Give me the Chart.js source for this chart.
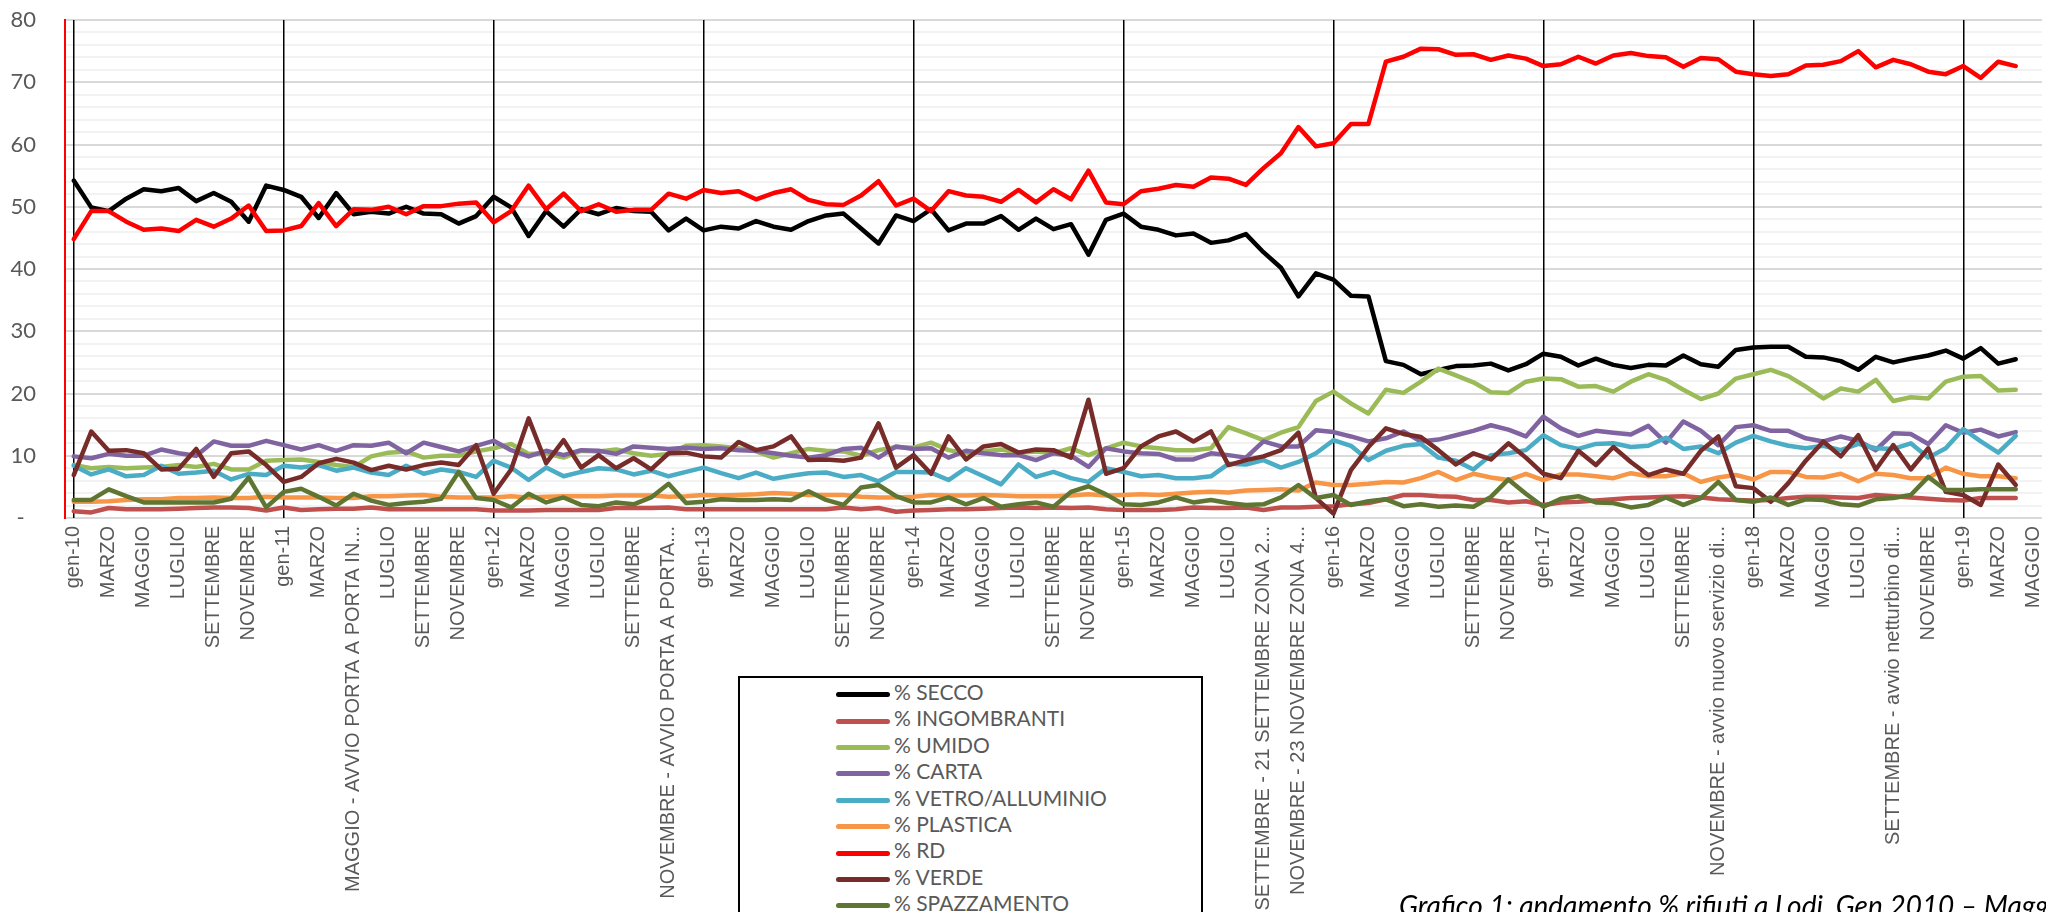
<!DOCTYPE html>
<html>
<head>
<meta charset="utf-8">
<script src="https://cdn.jsdelivr.net/npm/chart.js@4.4.1/dist/chart.umd.min.js"></script>
<style>
  html, body { margin: 0; padding: 0; background: #fff; overflow: hidden; }
  .wrap { position: relative; width: 2046px; height: 912px; overflow: hidden; }
  .legenda {
    position: absolute; left: 738px; top: 676px; width: 465px; height: 260px;
    border: 2px solid #000; background: #fff; box-sizing: border-box;
    font-family: Lato, "Liberation Sans Narrow", sans-serif; font-size: 21px; color: #595959;
  }
  .legenda .row { position: absolute; left: 96px; height: 26px; line-height: 26px; white-space: nowrap; }
  .legenda .row span.l { display: inline-block; width: 54px; height: 5px; border-radius: 3px; vertical-align: middle; margin-right: 4px; }
  .didascalia {
    position: absolute; left: 1399px; top: 888px; white-space: nowrap;
    font-family: Lato, sans-serif; font-style: italic; font-size: 28px; color: #000;
  }
</style>
</head>
<body>
<div class="wrap">
  <canvas id="grafico" width="2046" height="912"></canvas>
  <div class="legenda" id="legenda"></div>
  <div class="didascalia">Grafico 1: andamento % rifiuti a Lodi, Gen 2010 – Maggio 2019</div>
</div>
<script>
// categorie: un mese per punto, da gen-10 a maggio-19
const mesi = ['gen', 'FEBBRAIO', 'MARZO', 'APRILE', 'MAGGIO', 'GIUGNO', 'LUGLIO', 'AGOSTO', 'SETTEMBRE', 'OTTOBRE', 'NOVEMBRE', 'DICEMBRE'];
const anni = ['10', '11', '12', '13', '14', '15', '16', '17', '18', '19'];
const note = {
  16: 'MAGGIO - AVVIO PORTA A PORTA IN...',
  34: 'NOVEMBRE - AVVIO PORTA A PORTA...',
  68: 'SETTEMBRE - 21 SETTEMBRE ZONA 2...',
  70: 'NOVEMBRE - 23 NOVEMBRE ZONA 4...',
  94: 'NOVEMBRE - avvio nuovo servizio di...',
  104: 'SETTEMBRE - avvio netturbino di...'
};
const labels = [];
anni.forEach(a => {
  mesi.forEach((m, k) => {
    if (a === '19' && k > 4) return;
    const i = labels.length;
    labels.push(note[i] || (k === 0 ? 'gen-' + a : m));
  });
});

const secco = [54.2, 49.9, 49.3, 51.3, 52.8, 52.5, 53.0, 50.9, 52.2, 50.8, 47.6, 53.4, 52.7, 51.6, 48.2, 52.2, 48.8, 49.2, 48.9, 50.0, 48.9, 48.8, 47.3, 48.5, 51.6, 49.9, 45.3, 49.3, 46.8, 49.6, 48.8, 49.8, 49.3, 49.2, 46.2, 48.1,
  46.2, 46.8, 46.5, 47.7, 46.8, 46.3, 47.7, 48.6, 48.9, 46.5, 44.1, 48.6, 47.7, 49.6, 46.2, 47.3, 47.3, 48.5, 46.3, 48.1, 46.4, 47.2, 42.3, 47.9, 48.9, 46.8, 46.3, 45.4, 45.7, 44.2, 44.6, 45.6, 42.7, 40.2, 35.6, 39.3, 38.3, 35.7, 35.6,
  25.2, 24.6, 23.1, 23.8, 24.4, 24.5, 24.8, 23.7, 24.7, 26.4, 25.9, 24.5, 25.6, 24.6, 24.1, 24.6, 24.5, 26.1, 24.7, 24.3, 27.0, 27.4, 27.5, 27.5, 25.9, 25.8, 25.2, 23.8, 25.9, 25.0, 25.6, 26.1, 26.9, 25.6, 27.3, 24.8, 25.5, null];
const ingombranti = [1.1, 0.9, 1.6, 1.4, 1.4, 1.4, 1.5, 1.6, 1.7, 1.7, 1.6, 1.2, 1.7, 1.3, 1.4, 1.5, 1.5, 1.7, 1.4, 1.4, 1.4, 1.4,
  1.4, 1.4, 1.2, 1.2, 1.2, 1.3, 1.3, 1.3, 1.3, 1.6, 1.6, 1.6, 1.7, 1.4, 1.4, 1.4, 1.4, 1.4, 1.4, 1.4, 1.4, 1.4,
  1.7, 1.4, 1.6, 1.0, 1.2, 1.3, 1.4, 1.4, 1.5, 1.6, 1.7, 1.6, 1.7, 1.6, 1.7, 1.4, 1.3, 1.3, 1.3, 1.4, 1.7, 1.6,
  1.6, 1.7, 1.3, 1.7, 1.7, 1.8, 1.9, 2.2, 2.4, 3.0, 3.7, 3.7, 3.5, 3.4, 2.9, 2.9, 2.5, 2.7, 2.1, 2.5, 2.6, 2.8,
  3.0, 3.2, 3.3, 3.4, 3.5, 3.3, 3.0, 2.9, 2.8, 2.9, 3.2, 3.4, 3.4, 3.3, 3.2, 3.7, 3.5, 3.3, 3.1, 2.9, 2.8, 3.2, 3.2, 3.2, null];
const umido = [8.5, 8.0, 8.2, 8.0, 8.1, 8.2, 8.5, 8.2, 8.7, 7.8, 7.8, 9.2, 9.3, 9.4, 9.0, 8.5, 8.2, 9.9, 10.5, 10.7, 9.7, 10.0,
  10.0, 10.7, 11.2, 11.9, 10.3, 10.4, 9.7, 10.8, 10.7, 11.0, 10.4, 10.0, 10.3, 11.6, 11.7, 11.5, 11.2, 10.7, 9.7, 10.4, 11.1, 10.8,
  10.7, 10.0, 10.9, 11.4, 11.3, 12.1, 10.9, 10.4, 10.7, 11.0, 10.5, 10.7, 10.4, 11.2, 10.1, 11.2, 12.1, 11.5, 11.2, 10.9, 10.9, 11.2,
  14.6, 13.6, 12.5, 13.7, 14.6, 18.8, 20.3, 18.4, 16.8, 20.6, 20.1, 21.9, 24.0, 22.9, 21.8, 20.2, 20.1, 21.9, 22.4, 22.3, 21.1, 21.2,
  20.3, 21.9, 23.1, 22.2, 20.6, 19.1, 20.0, 22.4, 23.1, 23.8, 22.8, 21.1, 19.2, 20.8, 20.3, 22.2, 18.8, 19.4, 19.2, 21.9, 22.7, 22.8, 20.5, 20.6, null];
const carta = [9.9, 9.6, 10.3, 10.0, 10.0, 11.0, 10.4, 10.0, 12.3, 11.6, 11.6, 12.4, 11.7, 11.0, 11.7, 10.8, 11.7, 11.6, 12.1, 10.4, 12.1, 11.4,
  10.7, 11.6, 12.4, 10.9, 9.9, 10.8, 10.1, 10.9, 10.8, 10.3, 11.5, 11.3, 11.1, 11.3, 11.1, 11.2, 10.9, 10.8, 10.4, 10.0, 9.7, 10.1,
  11.1, 11.3, 9.7, 11.5, 11.1, 11.2, 9.7, 10.8, 10.4, 10.1, 10.1, 9.3, 10.4, 10.0, 8.2, 11.2, 10.7, 10.4, 10.3, 9.4, 9.4, 10.4,
  10.1, 9.7, 12.3, 11.5, 11.5, 14.1, 13.8, 13.1, 12.3, 12.8, 13.9, 12.3, 12.6, 13.3, 14.0, 14.9, 14.2, 13.1, 16.3, 14.4, 13.2, 14.0,
  13.7, 13.4, 14.8, 12.1, 15.5, 14.0, 11.7, 14.6, 14.9, 14.0, 14.0, 12.8, 12.3, 13.1, 12.4, 10.9, 13.6, 13.5, 11.9, 14.9, 13.7, 14.2, 13.1, 13.8, null];
const vetro = [8.4, 7.0, 7.8, 6.7, 6.9, 8.4, 7.1, 7.3, 7.6, 6.2, 7.1, 6.9, 8.4, 8.1, 8.5, 7.6, 8.1, 7.3, 6.9, 8.4, 7.1, 7.8,
  7.4, 6.6, 9.2, 8.1, 6.1, 8.1, 6.7, 7.4, 8.0, 7.8, 7.0, 7.6, 6.7, 7.4, 8.1, 7.2, 6.4, 7.3, 6.3, 6.8, 7.2, 7.3,
  6.6, 6.9, 5.9, 7.4, 7.4, 7.3, 6.1, 8.0, 6.7, 5.4, 8.6, 6.6, 7.4, 6.4, 5.8, 8.0, 7.4, 6.7, 6.9, 6.4, 6.4, 6.7,
  8.7, 8.6, 9.3, 8.1, 9.0, 10.4, 12.5, 11.6, 9.3, 10.8, 11.6, 11.9, 9.7, 9.2, 7.8, 10.1, 10.4, 10.9, 13.3, 11.7, 11.1, 11.9,
  12.0, 11.4, 11.6, 12.9, 11.1, 11.5, 10.4, 12.1, 13.2, 12.3, 11.6, 11.2, 11.6, 10.9, 11.9, 11.2, 11.1, 12.0, 9.7, 11.2, 14.3, 12.3, 10.5, 13.2, null];
const plastica = [2.6, 2.6, 2.7, 2.9, 3.0, 3.0, 3.2, 3.2, 3.3, 3.2, 3.2, 3.4, 3.3, 3.3, 3.3, 3.2, 3.2, 3.5, 3.5, 3.6, 3.7, 3.4,
  3.3, 3.3, 3.3, 3.5, 3.3, 3.4, 3.5, 3.5, 3.5, 3.6, 3.6, 3.6, 3.4, 3.5, 3.7, 3.6, 3.7, 3.8, 4.0, 3.9, 3.7, 3.7,
  3.7, 3.4, 3.3, 3.3, 3.4, 3.7, 3.6, 3.6, 3.7, 3.6, 3.5, 3.5, 3.5, 3.6, 3.8, 3.6, 3.7, 3.8, 3.7, 3.9, 4.1, 4.2,
  4.1, 4.4, 4.5, 4.6, 4.4, 5.7, 5.3, 5.3, 5.5, 5.8, 5.7, 6.4, 7.4, 6.1, 7.1, 6.5, 6.1, 7.1, 6.1, 7.0, 7.0, 6.7,
  6.4, 7.2, 6.7, 6.7, 7.2, 5.8, 6.5, 6.9, 6.2, 7.4, 7.4, 6.6, 6.5, 7.1, 5.9, 7.1, 6.9, 6.4, 6.4, 8.1, 7.1, 6.7, 6.7, 6.4, null];
const rd = [44.8, 49.3, 49.3, 47.6, 46.3, 46.5, 46.1, 47.9, 46.8, 48.1, 50.2, 46.1, 46.2, 46.9, 50.6, 46.9, 49.6, 49.5, 50.0, 48.8, 50.1, 50.1, 50.5, 50.7, 47.5, 49.3, 53.4, 49.6, 52.1, 49.3, 50.4, 49.2, 49.5, 49.5, 52.1, 51.3,
  52.7, 52.2, 52.5, 51.2, 52.2, 52.8, 51.1, 50.4, 50.3, 51.8, 54.1, 50.2, 51.3, 49.3, 52.5, 51.8, 51.6, 50.8, 52.7, 50.7, 52.8, 51.2, 55.8, 50.7, 50.4, 52.5, 52.9, 53.5, 53.2, 54.7, 54.5, 53.5, 56.2, 58.6, 62.8, 59.7, 60.2, 63.3, 63.3,
  73.3, 74.1, 75.4, 75.3, 74.4, 74.5, 73.6, 74.3, 73.8, 72.6, 72.9, 74.1, 73.0, 74.3, 74.7, 74.2, 74.0, 72.5, 73.9, 73.7, 71.7, 71.3, 71.0, 71.3, 72.7, 72.8, 73.4, 75.0, 72.4, 73.6, 72.9, 71.7, 71.3, 72.6, 70.7, 73.3, 72.6, null];
const verde = [6.9, 13.9, 10.8, 10.9, 10.4, 7.8, 7.9, 11.1, 6.6, 10.4, 10.7, 8.5, 5.8, 6.6, 8.8, 9.5, 8.9, 7.7, 8.4, 7.8, 8.5, 8.9,
  8.5, 11.7, 3.9, 7.8, 16.0, 8.8, 12.5, 8.1, 10.1, 8.0, 9.6, 7.8, 10.4, 10.5, 9.9, 9.7, 12.2, 10.9, 11.5, 13.1, 9.3, 9.4,
  9.2, 9.7, 15.2, 8.1, 10.1, 7.1, 13.1, 9.4, 11.5, 11.9, 10.5, 11.0, 10.9, 9.7, 19.0, 7.1, 8.0, 11.5, 13.1, 13.9, 12.3, 13.9,
  8.5, 9.3, 9.9, 10.9, 13.7, 3.2, 0.7, 7.7, 11.4, 14.4, 13.5, 13.0, 10.9, 8.6, 10.4, 9.4, 12.0, 9.7, 7.1, 6.4, 10.8, 8.5,
  11.4, 9.0, 6.9, 7.8, 7.1, 10.8, 13.1, 5.1, 4.8, 2.6, 5.6, 9.2, 12.3, 9.9, 13.3, 7.8, 11.7, 7.8, 11.2, 4.2, 3.7, 2.1, 8.6, 5.3, null];
const spazzamento = [2.9, 2.9, 4.6, 3.5, 2.5, 2.5, 2.5, 2.5, 2.5, 3.1, 6.5, 1.7, 4.2, 4.7, 3.4, 2.0, 3.9, 2.8, 2.1, 2.4, 2.6, 3.1,
  7.4, 3.2, 2.9, 1.7, 3.9, 2.5, 3.3, 2.1, 1.9, 2.5, 2.2, 3.3, 5.5, 2.4, 2.6, 3.0, 2.9, 2.9, 3.0, 2.9, 4.3, 2.9,
  2.1, 4.9, 5.3, 3.5, 2.5, 2.5, 3.3, 2.2, 3.2, 1.8, 2.2, 2.5, 1.8, 4.2, 5.1, 3.8, 2.2, 2.1, 2.5, 3.3, 2.5, 2.9,
  2.4, 2.1, 2.2, 3.3, 5.3, 3.2, 3.7, 2.1, 2.7, 3.0, 1.9, 2.2, 1.8, 2.0, 1.8, 3.4, 6.2, 3.9, 1.8, 3.1, 3.5, 2.5,
  2.4, 1.7, 2.1, 3.3, 2.1, 3.2, 5.8, 2.9, 2.6, 3.3, 2.1, 3.0, 2.9, 2.2, 2.0, 3.0, 3.2, 3.7, 6.6, 4.5, 4.5, 4.6, 4.6, 4.6, null];

const serie = [
  { label: '% SECCO', data: secco, color: '#000000' },
  { label: '% INGOMBRANTI', data: ingombranti, color: '#c0504d' },
  { label: '% UMIDO', data: umido, color: '#9bbb59' },
  { label: '% CARTA', data: carta, color: '#8064a2' },
  { label: '% VETRO/ALLUMINIO', data: vetro, color: '#4bacc6' },
  { label: '% PLASTICA', data: plastica, color: '#f79646' },
  { label: '% RD', data: rd, color: '#ff0000' },
  { label: '% VERDE', data: verde, color: '#772c2a' },
  { label: '% SPAZZAMENTO', data: spazzamento, color: '#5f7632' }
];

// legenda in html, riquadro sotto il grafico
const leg = document.getElementById('legenda');
serie.forEach((s, i) => {
  const r = document.createElement('div');
  r.className = 'row';
  r.style.top = (1 + i * 26.4) + 'px';
  r.innerHTML = '<span class="l" style="background:' + s.color + '"></span>' + s.label;
  leg.appendChild(r);
});

const ctx = document.getElementById('grafico');
new Chart(ctx, {
  type: 'line',
  data: {
    labels: labels,
    datasets: serie.map((s, i) => ({
      label: s.label,
      data: s.data,
      borderColor: s.color,
      backgroundColor: s.color,
      borderWidth: 4.5,
      pointRadius: 0,
      tension: 0,
      fill: false,
      borderJoinStyle: 'round',
      borderCapStyle: 'round',
      order: serie.length - i
    }))
  },
  options: {
    responsive: false,
    animation: false,
    layout: { padding: { top: 20, right: 4, left: 0, bottom: 0 } },
    plugins: {
      legend: { display: false },
      tooltip: { enabled: false }
    },
    scales: {
      x: {
        offset: true,
        border: { display: false },
        grid: {
          offset: false,
          drawTicks: false,
          lineWidth: 1.5,
          z: -1,
          color: (c) => (c.index % 12 === 0 ? '#000000' : 'rgba(0,0,0,0)')
        },
        ticks: {
          autoSkip: false,
          minRotation: 90,
          maxRotation: 90,
          padding: 8,
          color: '#595959',
          font: { family: 'Liberation Sans', size: 20 },
          callback: function (v, i) { return i % 2 === 0 ? this.getLabelForValue(v) : ''; }
        },
        afterFit: (scale) => {
          scale.height = 394;
          scale.paddingLeft = 0;
          scale.paddingRight = 0;
        }
      },
      y: {
        min: 0,
        max: 80,
        border: { color: '#ff0000', width: 2 },
        grid: {
          drawTicks: false,
          lineWidth: 2,
          z: -2,
          color: (c) => (c.tick.value % 10 === 0 ? '#d9d9d9' : '#f2f2f2')
        },
        ticks: {
          stepSize: 2,
          maxTicksLimit: 100,
          autoSkip: false,
          padding: 29,
          color: '#595959',
          font: { family: 'Lato', size: 22 },
          callback: (v) => (v % 10 !== 0 ? '' : (v === 0 ? '-  ' : v))
        },
        afterFit: (scale) => {
          scale.width = 65;
          scale.paddingTop = 0;
          scale.paddingBottom = 0;
        }
      }
    }
  }
});
</script>
</body>
</html>
